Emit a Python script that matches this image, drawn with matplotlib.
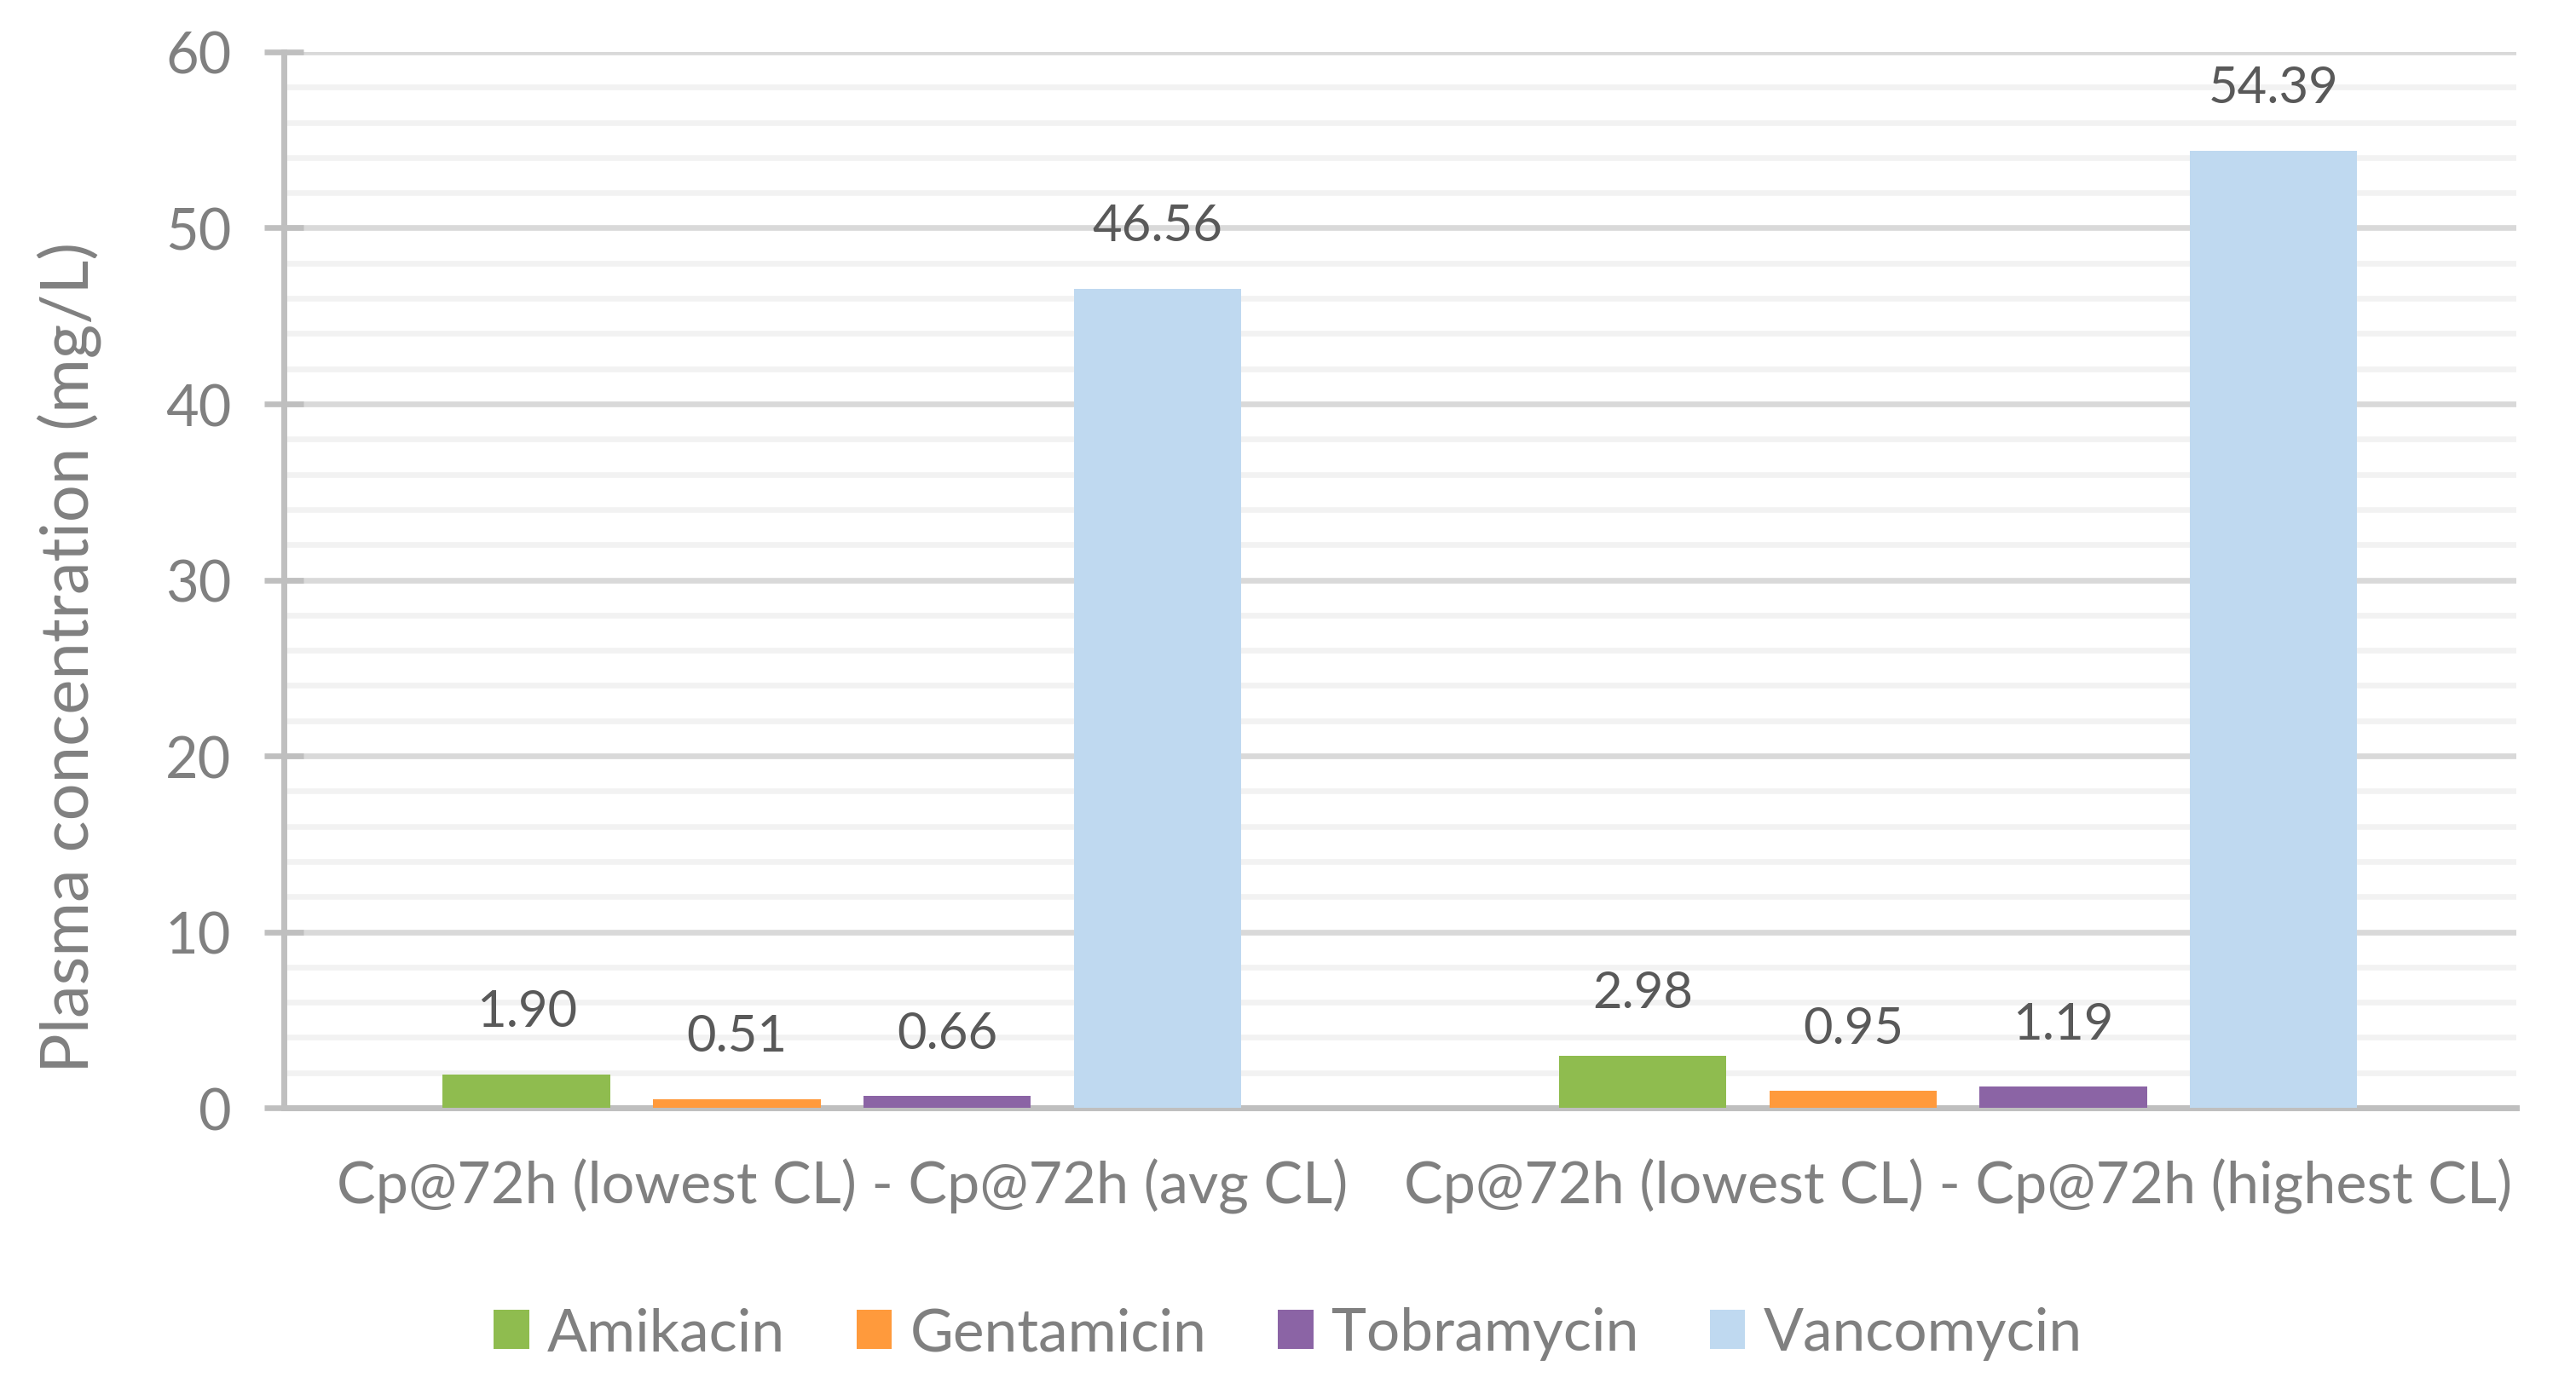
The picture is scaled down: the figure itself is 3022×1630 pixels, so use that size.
import numpy as np
import matplotlib.pyplot as plt
from matplotlib.ticker import MultipleLocator

plt.rcParams['font.family'] = ['Lato', 'DejaVu Sans']

# data
categories = ["Cp@72h (lowest CL) - Cp@72h (avg CL)",
              "Cp@72h (lowest CL) - Cp@72h (highest CL)"]
drugs = ["Amikacin", "Gentamicin", "Tobramycin", "Vancomycin"]
amikacin = [1.90, 2.98]
gentamicin = [0.51, 0.95]
tobramycin = [0.66, 1.19]
vancomycin = [46.56, 54.39]
colors = ["#8FBC4F", "#FF9A3C", "#8B64A5", "#BFD9F0"]

series = [amikacin, gentamicin, tobramycin, vancomycin]

fig = plt.figure(figsize=(15.11, 8.155), dpi=200)
ax = fig.add_axes([0.1102, 0.2023, 0.8666, 0.7597])

x = np.arange(len(categories))
step = 0.1884
width = 0.150
for i, (name, vals, c) in enumerate(zip(drugs, series, colors)):
    pos = x + (i - 1.5) * step
    bars = ax.bar(pos, vals, width, color=c, label=name, zorder=3)
    for b, v in zip(bars, vals):
        ax.annotate(f"{v:.2f}", (b.get_x() + b.get_width() / 2, v),
                    xytext=(0, 26.5), textcoords="offset points",
                    ha="center", va="center", fontsize=21.5, color="#595959")

ax.set_xlim(-0.5, 1.5)
ax.set_ylim(0, 60)
ax.yaxis.set_major_locator(MultipleLocator(10))
ax.yaxis.set_minor_locator(MultipleLocator(2))
ax.grid(which="minor", axis="y", color="#F2F2F2", lw=2.4, zorder=0)
ax.grid(which="major", axis="y", color="#D9D9D9", lw=2.4, zorder=1)
ax.set_axisbelow(True)

ax.set_xticks(x)
ax.set_xticklabels(categories)
ax.tick_params(axis="x", length=0, pad=21, labelsize=24.6, labelcolor="#808080")
ax.tick_params(axis="y", which="major", direction="inout", length=16.5, width=2.4,
               color="#BFBFBF", pad=14, labelsize=24, labelcolor="#808080")
ax.tick_params(axis="y", which="minor", length=0)

for s in ["top", "right"]:
    ax.spines[s].set_visible(False)
for s in ["left", "bottom"]:
    ax.spines[s].set_color("#BFBFBF")
    ax.spines[s].set_linewidth(2.5)

fig.text(81 / 3022, 1 - 771 / 1631, "Plasma concentration (mg/L)", rotation=90,
         ha="center", va="center", fontsize=28, color="#808080")

fig.legend(loc="center", bbox_to_anchor=(0.5, 1 - 1566 / 1631), ncol=4, frameon=False,
           fontsize=25, labelcolor="#808080", handlelength=0.6, handleheight=0.63,
           handletextpad=0.31, columnspacing=1.2)

fig.savefig("out.png", dpi=200)
